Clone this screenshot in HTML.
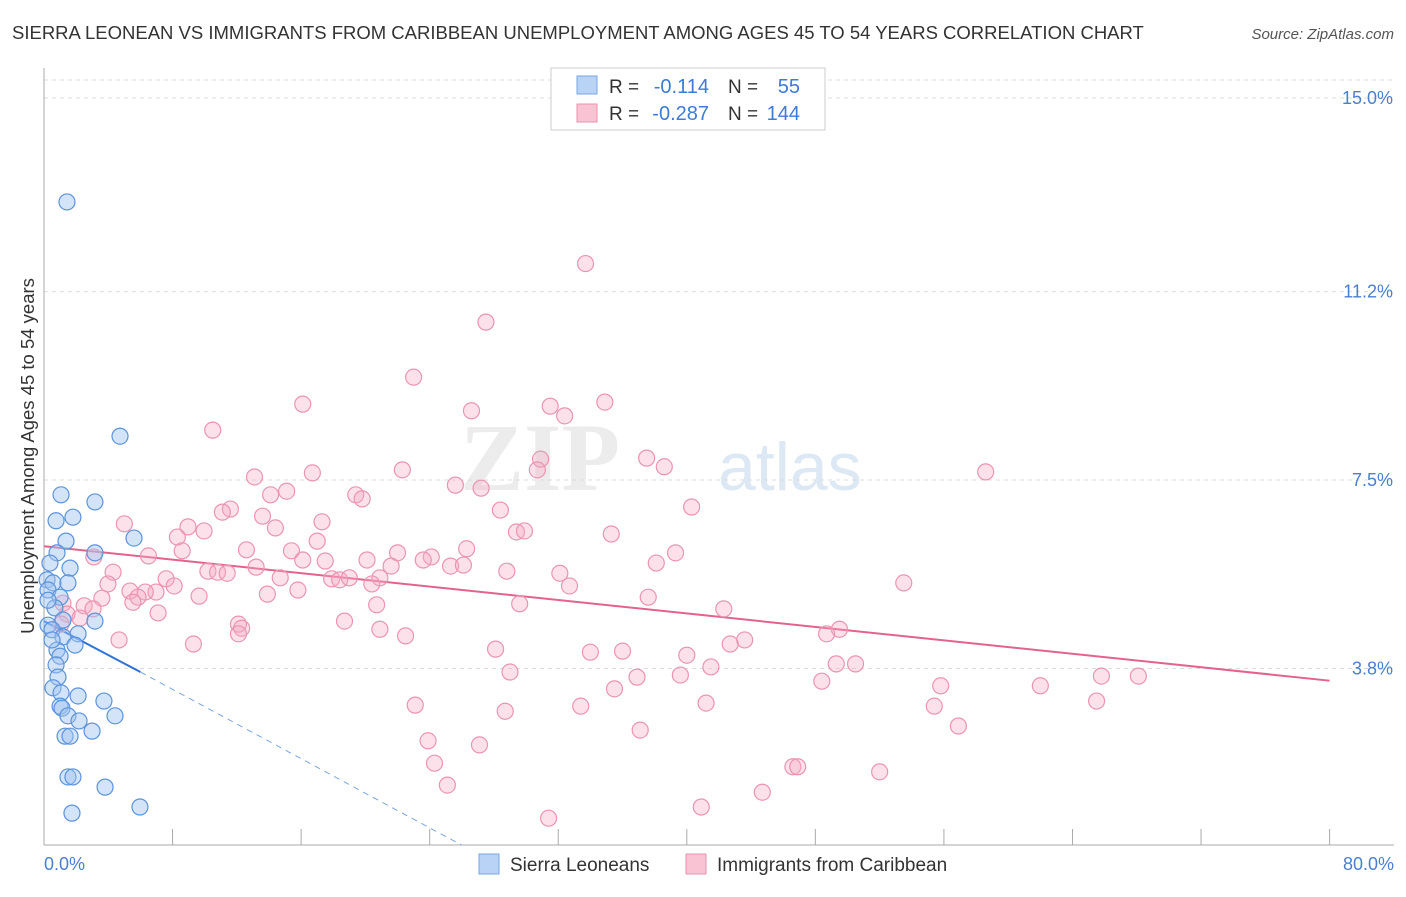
<!DOCTYPE html>
<html><head><meta charset="utf-8"><style>
body{margin:0;background:#fff;font-family:"Liberation Sans",sans-serif}
</style></head><body>
<svg width="1406" height="892" xmlns="http://www.w3.org/2000/svg">
<text x="12" y="39" font-size="18.5" fill="#333">SIERRA LEONEAN VS IMMIGRANTS FROM CARIBBEAN UNEMPLOYMENT AMONG AGES 45 TO 54 YEARS CORRELATION CHART</text>
<text x="1394" y="39" font-size="15" fill="#555" font-style="italic" text-anchor="end">Source: ZipAtlas.com</text>
<text x="620" y="490" font-size="96" fill="#ececec" text-anchor="end" font-family="Liberation Serif" font-weight="bold">ZIP</text>
<text x="718" y="490" font-size="68" fill="#dde8f5">atlas</text>
<g id="grid"></g><g id="axes"></g><g id="trend"></g><g id="pts"></g>
<text transform="translate(34,456) rotate(-90)" font-size="18.5" fill="#333" text-anchor="middle">Unemployment Among Ages 45 to 54 years</text>
<text x="44" y="870" font-size="18" fill="#4a7fd0">0.0%</text>
<text x="1394" y="870" font-size="18" fill="#4a7fd0" text-anchor="end">80.0%</text>
<g>
<rect x="551" y="68" width="274" height="62" fill="#fff" stroke="#ccc"/>
<rect x="577" y="76" width="20" height="18" fill="#b8d3f5" stroke="#7aa6e0"/>
<rect x="577" y="104" width="20" height="18" fill="#f9c3d3" stroke="#e990ad"/>
<text x="609" y="93" font-size="19" fill="#333">R =</text>
<text x="709" y="93" font-size="20" fill="#3d7bd9" text-anchor="end">-0.114</text>
<text x="728" y="93" font-size="19" fill="#333">N =</text>
<text x="800" y="93" font-size="20" fill="#3d7bd9" text-anchor="end">55</text>
<text x="609" y="120" font-size="19" fill="#333">R =</text>
<text x="709" y="120" font-size="20" fill="#3d7bd9" text-anchor="end">-0.287</text>
<text x="728" y="120" font-size="19" fill="#333">N =</text>
<text x="800" y="120" font-size="20" fill="#3d7bd9" text-anchor="end">144</text>
</g>
<g>
<rect x="479" y="854" width="20" height="20" fill="#b8d3f5" stroke="#7aa6e0"/>
<text x="510" y="871" font-size="19" fill="#333">Sierra Leoneans</text>
<rect x="686" y="854" width="20" height="20" fill="#f9c3d3" stroke="#e990ad"/>
<text x="717" y="871" font-size="19" fill="#333">Immigrants from Caribbean</text>
</g>
</svg>
<script>
const yTicks=[15.0,11.2,7.5,3.8];
const yTickLabels=["15.0%","11.2%","7.5%","3.8%"];
const blueX=[1.43,4.73,1.06,3.17,0.75,1.8,1.37,0.81,3.17,5.6,0.37,1.62,0.19,0.56,1.49,0.25,1.0,0.68,1.18,3.17,0.25,0.5,2.12,1.18,1.93,0.81,1.0,0.75,0.87,0.56,1.06,2.12,3.73,1.0,1.12,1.49,4.42,2.18,2.99,1.31,1.62,1.49,1.8,3.8,5.97,1.74,0.25,0.5];
const blueY=[12.96,8.36,7.21,7.07,6.7,6.77,6.3,6.07,6.07,6.36,5.87,5.77,5.54,5.48,5.48,5.34,5.2,4.99,4.75,4.73,4.65,4.56,4.48,4.42,4.26,4.16,4.04,3.87,3.63,3.42,3.32,3.26,3.16,3.06,3.02,2.87,2.87,2.77,2.57,2.47,2.47,1.67,1.67,1.47,1.08,0.96,5.14,4.36];
const pinkX=[33.7,27.5,23,16.1,26.6,31.5,34.9,32.4,10.5,30.9,37.5,38.6,30.7,22.3,16.7,13.1,58.6,25.6,27.2,15.1,14.1,19.4,19.8,11.6,11.1,28.4,40.3,13.6,17.3,5,8.96,14.4,9.96,29.4,29.9,35.3,8.3,17,8.6,12.6,15.4,26.3,6.5,3.1,22,24.1,39.3,16.1,17.5,20.1,23.6,38.1,21.6,25.3,13.2,26.1,28.8,4.3,10.2,10.8,11.4,32.1,14.7,17.9,18.4,19,20.9,7.6,3.98,53.5,32.7,20.4,8.1,5.35,15.8,13.9,6.97,6.3,5.85,9.65,37.6,3.6,5.53,29.6,20.7,1.18,2.5,3.05,42.3,1.43,7.1,2.24,18.7,12.1,1.06,12.3,20.9,12.1,22.5,49.5,48.7,4.67,43.6,9.3,42.7,28.1,34,36,40,49.3,50.5,41.5,29,36.9,39.6,48.4,65.8,68.1,35.5,55.8,62,65.5,23.1,33.4,41.2,55.4,28.7,56.9,37.1,23.9,27.1,24.3,46.6,46.9,52,25.1,44.7,40.9,31.4];
const pinkY=[11.75,10.6,9.52,8.99,8.86,8.95,9.03,8.76,8.48,7.91,7.93,7.76,7.7,7.7,7.64,7.56,7.66,7.4,7.34,7.28,7.21,7.21,7.13,6.93,6.87,6.91,6.97,6.79,6.68,6.64,6.58,6.56,6.5,6.48,6.5,6.44,6.38,6.3,6.11,6.13,6.11,6.15,6.01,5.99,6.07,5.99,6.07,5.93,5.91,5.93,5.93,5.87,5.81,5.81,5.79,5.83,5.71,5.69,5.71,5.69,5.67,5.67,5.58,5.56,5.54,5.58,5.58,5.56,5.46,5.48,5.42,5.46,5.42,5.32,5.34,5.26,5.3,5.3,5.2,5.22,5.2,5.18,5.1,5.07,5.05,5.08,5.03,4.97,4.97,4.87,4.89,4.79,4.73,4.67,4.67,4.59,4.57,4.48,4.44,4.57,4.48,4.36,4.36,4.28,4.28,4.18,4.12,4.14,4.06,3.89,3.89,3.83,3.73,3.63,3.67,3.55,3.65,3.65,3.4,3.46,3.46,3.16,3.08,3.06,3.12,3.06,2.96,2.67,2.59,2.38,2.3,1.94,1.87,1.87,1.77,1.51,1.37,1.08,0.86];
const blueTrend=[[0,4.73],[6,3.73],[26,0.33]];
const pinkTrend=[[0,6.2],[80,3.56]];
const NS="http://www.w3.org/2000/svg";
const sx=v=>44+v*16.07, sy=v=>862-v*50.93;
function mk(tag,attrs,parent){const e=document.createElementNS(NS,tag);for(const k in attrs)e.setAttribute(k,attrs[k]);document.getElementById(parent).appendChild(e);return e;}
yTicks.forEach((t,i)=>{
 let l=mk('line',{x1:44,x2:1394,y1:sy(t),y2:sy(t),stroke:'#ddd','stroke-dasharray':'4,4'},'grid');
 
 
 let tx=mk('text',{x:1393,y:sy(t)+6,'font-size':18,fill:'#4a7fd0','text-anchor':'end'},'grid');tx.textContent=yTickLabels[i];
 
 
});
let tl=mk('line',{x1:44,x2:1394,y1:80,y2:80,stroke:'#ddd','stroke-dasharray':'4,4'},'grid');
let ax=mk('line',{x1:44,x2:44,y1:68,y2:845,stroke:'#aaa'},'axes');


let bx=mk('line',{x1:44,x2:1394,y1:845,y2:845,stroke:'#aaa'},'axes');


for(let i=0;i<=10;i++){let t=mk('line',{x1:sx(i*8),x2:sx(i*8),y1:829,y2:845,stroke:'#aaa'},'axes');
 
 }
let b1=mk('line',{x1:sx(blueTrend[0][0]),y1:sy(blueTrend[0][1]),x2:sx(blueTrend[1][0]),y2:sy(blueTrend[1][1]),stroke:'#2f73d9','stroke-width':2},'trend');


let b2=mk('line',{x1:sx(blueTrend[1][0]),y1:sy(blueTrend[1][1]),x2:sx(blueTrend[2][0]),y2:sy(blueTrend[2][1]),stroke:'#7aa6e0','stroke-width':1,'stroke-dasharray':'6,5'},'trend');


let p1=mk('line',{x1:sx(pinkTrend[0][0]),y1:sy(pinkTrend[0][1]),x2:sx(pinkTrend[1][0]),y2:sy(pinkTrend[1][1]),stroke:'#e4628e','stroke-width':2},'trend');


pinkX.forEach((x,i)=>{let c=mk('circle',{cx:sx(x),cy:sy(pinkY[i]),r:8,fill:'rgba(246,170,195,0.35)',stroke:'#eb94b2','stroke-width':1.2},'pts');
 
 });
blueX.forEach((x,i)=>{let c=mk('circle',{cx:sx(x),cy:sy(blueY[i]),r:8,fill:'rgba(160,195,240,0.45)',stroke:'#5b93dc','stroke-width':1.2},'pts');
 
 });
</script>
</body></html>
